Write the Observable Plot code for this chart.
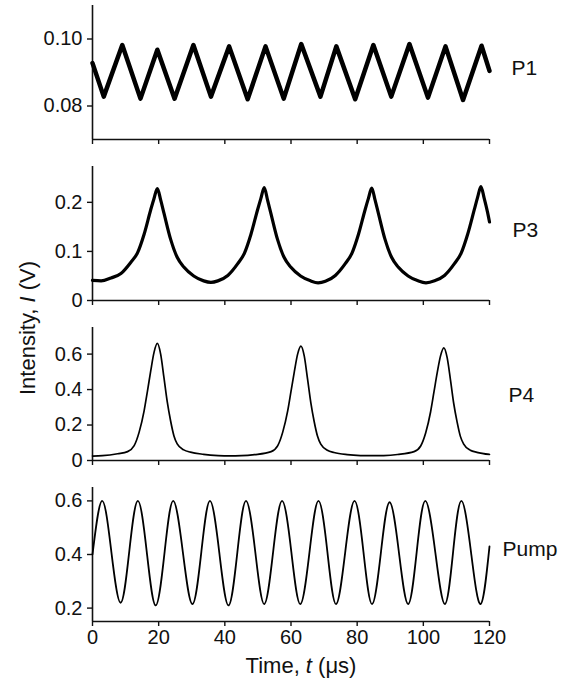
<!DOCTYPE html>
<html>
<head>
<meta charset="utf-8">
<script src="https://cdn.jsdelivr.net/npm/d3@7"></script>
<script src="https://cdn.jsdelivr.net/npm/@observablehq/plot@0.6"></script>
<style>
  html, body { margin: 0; padding: 0; background: #fff; }
  #chart { position: relative; width: 574px; height: 681px; overflow: hidden; background: #fff; }
  #chart > div, #chart > svg { position: absolute; left: 0; }
  #chart svg [aria-label$="tick label"] { font-size: 20px !important; }
</style>
</head>
<body>
<div id="chart"></div>
<script>
// ---------- data ----------
const xTicks = [0, 20, 40, 60, 80, 100, 120];

const panelNames = ["P1", "P3", "P4", "Pump"];

// P1: small triangular oscillation (V)
const p1Time = [0, 3.4, 9.0, 14.5, 19.6, 24.8, 30.5, 35.8, 41.3, 46.9, 52.3, 57.8, 63.1, 68.9, 73.7, 79.4, 84.9, 90.3, 95.8, 101.4, 106.7, 112.0, 117.6, 120];
const p1Val  = [0.0928, 0.0828, 0.0982, 0.0822, 0.0968, 0.0822, 0.0982, 0.0828, 0.0978, 0.0820, 0.0978, 0.0822, 0.0985, 0.0828, 0.0978, 0.0820, 0.0982, 0.0828, 0.0985, 0.0825, 0.0978, 0.0818, 0.0980, 0.0905];
const p1Ticks = [0.08, 0.10];

// P3: cusp-like periodic peaks
const p3Time = [0, 2.6, 5.6, 8.6, 11.6, 13.6, 15.6, 17.6, 18.6, 19.6, 20.6, 21.6, 23.6, 25.6, 27.6, 30.6, 33.6, 35.8,
                37.9, 40.9, 43.9, 45.9, 47.9, 49.9, 50.9, 51.9, 52.9, 53.9, 55.9, 57.9, 59.9, 62.9, 65.9, 68.2,
                70.4, 73.4, 76.4, 78.4, 80.4, 82.4, 83.4, 84.4, 85.4, 86.4, 88.4, 90.4, 92.4, 95.4, 98.4, 100.8,
                103.4, 106.4, 109.4, 111.4, 113.4, 115.4, 116.4, 117.4, 118.4, 119.4, 120];
const p3Val  = [0.041, 0.040, 0.046, 0.055, 0.078, 0.097, 0.135, 0.185, 0.208, 0.228, 0.205, 0.178, 0.125, 0.088, 0.068, 0.050, 0.040, 0.037,
                0.040, 0.051, 0.075, 0.096, 0.135, 0.185, 0.208, 0.230, 0.205, 0.178, 0.125, 0.088, 0.068, 0.050, 0.040, 0.036,
                0.039, 0.051, 0.075, 0.096, 0.135, 0.185, 0.208, 0.229, 0.205, 0.178, 0.125, 0.088, 0.068, 0.050, 0.040, 0.036,
                0.040, 0.051, 0.075, 0.096, 0.135, 0.185, 0.210, 0.232, 0.208, 0.180, 0.160];
const p3Ticks = [0, 0.1, 0.2];

// P4: narrow peaks
const p4Time = [0, 3, 7.6, 10.6, 12.6, 14.1, 15.6, 16.6, 17.6, 18.6, 19.6, 20.6, 21.6, 22.6, 23.6, 24.6, 25.6, 27.6, 29.6, 33.6, 38, 41.3, 45,
                49, 54, 56, 57.5, 59, 60, 61, 62, 63, 64, 65, 66, 67, 68, 69, 71, 73, 77, 81, 84.6, 88, 92.2,
                97.2, 99.2, 100.7, 102.2, 103.2, 104.2, 105.2, 106.2, 107.2, 108.2, 109.2, 110.2, 111.2, 112.2, 114.2, 116.2, 120];
const p4Val  = [0.025, 0.027, 0.038, 0.050, 0.084, 0.160, 0.280, 0.390, 0.505, 0.610, 0.660, 0.600, 0.467, 0.330, 0.224, 0.140, 0.094, 0.060, 0.047, 0.035, 0.028, 0.026, 0.027,
                0.033, 0.050, 0.084, 0.160, 0.280, 0.390, 0.500, 0.600, 0.645, 0.590, 0.460, 0.325, 0.220, 0.138, 0.092, 0.058, 0.045, 0.033, 0.028, 0.027, 0.028, 0.034,
                0.050, 0.082, 0.155, 0.275, 0.385, 0.495, 0.590, 0.635, 0.580, 0.455, 0.320, 0.218, 0.136, 0.092, 0.058, 0.046, 0.034];
const p4Ticks = [0, 0.2, 0.4, 0.6];

// Pump: sinusoidal modulation
const pumpTime = [0, 2.9, 5.7, 8.5, 11.1, 13.7, 16.4, 19.1, 21.8, 24.4, 27.3, 30.2, 32.9, 35.5, 38.3, 41.1, 43.8, 46.4, 49.2, 51.9, 54.6, 57.3,
                  60.1, 62.8, 65.6, 68.3, 71.0, 73.6, 76.4, 79.2, 81.9, 84.5, 87.2, 89.8, 92.6, 95.4, 98.0, 100.6, 103.6, 106.5, 109.0, 111.5, 114.4, 117.3, 120];
const pumpVal  = [0.40, 0.600, 0.41, 0.220, 0.41, 0.600, 0.41, 0.210, 0.41, 0.600, 0.41, 0.215, 0.41, 0.600, 0.41, 0.210, 0.41, 0.600, 0.41, 0.215, 0.41, 0.600,
                  0.41, 0.215, 0.41, 0.600, 0.41, 0.215, 0.41, 0.600, 0.41, 0.215, 0.41, 0.595, 0.41, 0.215, 0.41, 0.600, 0.41, 0.215, 0.41, 0.600, 0.41, 0.215, 0.43];
const pumpTicks = [0.2, 0.4, 0.6];

// ---------- drawing ----------
const FONT = "'Liberation Sans', Arial, Helvetica, sans-serif";
const INK = "#111";
const chart = document.getElementById("chart");

function zip(t, v) { return t.map((d, i) => ({t: d, v: v[i]})); }

function panel(o) {
  const data = zip(o.time, o.val);
  const marks = [
    Plot.ruleX([0], {stroke: INK, strokeWidth: 1.6}),
    Plot.ruleY([o.domain[0]], {stroke: INK, strokeWidth: 1.6}),
    Plot.axisY({ticks: o.ticks, tickFormat: o.fmt, tickSize: 5, tickPadding: 5, label: null, stroke: INK, strokeWidth: 1.4, fontSize: 20}),
    Plot.axisX({ticks: xTicks, tickSize: 5, tickPadding: 3, label: null, stroke: INK, strokeWidth: 1.4, fontSize: 20,
                tickFormat: o.showX ? (d => String(d)) : (() => "")})
  ];
  marks.push(Plot.line(data, {x: "t", y: "v", stroke: "#000", strokeWidth: o.sw, curve: o.curve, strokeLinejoin: "round"}));
  marks.push(Plot.text([o.name], {frameAnchor: "right", dx: o.ldx, dy: o.ldy, textAnchor: "start", fontSize: 21, fill: INK}));
  const svg = Plot.plot({
    width: 574, height: o.height,
    marginLeft: 92, marginRight: 85, marginTop: 5, marginBottom: o.height - 5 - o.area,
    style: {fontFamily: FONT, fontSize: "20px", color: INK, background: "transparent", overflow: "visible"},
    x: {domain: [0, 120]},
    y: {domain: o.domain},
    marks
  });
  const wrap = document.createElement("div");
  wrap.style.top = o.top + "px";
  wrap.appendChild(svg);
  chart.appendChild(wrap);
}

const fmt2 = d => d.toFixed(2);
const fmt1 = d => d === 0 ? "0" : d.toFixed(1);

panel({name: panelNames[0], time: p1Time, val: p1Val, domain: [0.07, 0.11], ticks: p1Ticks, fmt: fmt2,
       top: 0, height: 155, area: 134, sw: 4.5, curve: "linear", ldx: 22, ldy: -4, showX: false});
panel({name: panelNames[1], time: p3Time, val: p3Val, domain: [0, 0.273], ticks: p3Ticks, fmt: fmt1,
       top: 161, height: 155, area: 134, sw: 3.2, curve: "monotone-x", ldx: 23, ldy: -3, showX: false});
panel({name: panelNames[2], time: p4Time, val: p4Val, domain: [0, 0.75], ticks: p4Ticks, fmt: fmt1,
       top: 322, height: 154, area: 133, sw: 1.7, curve: "monotone-x", ldx: 19, ldy: 1, showX: false});
panel({name: panelNames[3], time: pumpTime, val: pumpVal, domain: [0.15, 0.65], ticks: pumpTicks, fmt: fmt1,
       top: 482, height: 199, area: 134, sw: 1.8, curve: "natural", ldx: 13, ldy: -5, showX: true});

// axis titles overlay
const ov = d3.create("svg").attr("width", 574).attr("height", 681)
  .style("top", "0px").style("pointer-events", "none")
  .style("font-family", FONT).attr("fill", INK);
const yl = ov.append("text").attr("transform", "translate(35,328) rotate(-90)")
  .attr("text-anchor", "middle").attr("font-size", 22);
yl.append("tspan").text("Intensity, ");
yl.append("tspan").attr("font-style", "italic").text("I");
yl.append("tspan").text(" (V)");
const xl = ov.append("text").attr("x", 301).attr("y", 673).attr("text-anchor", "middle").attr("font-size", 22);
xl.append("tspan").text("Time, ");
xl.append("tspan").attr("font-style", "italic").text("t");
xl.append("tspan").text(" (\u03bcs)");
chart.appendChild(ov.node());
</script>
</body>
</html>
